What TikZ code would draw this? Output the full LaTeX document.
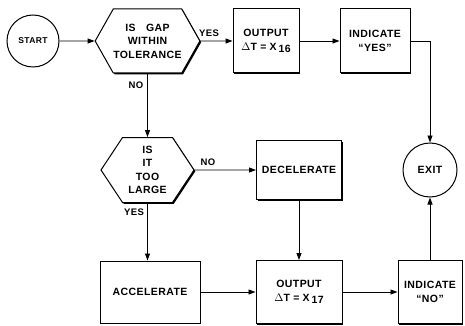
\documentclass[tikz,border=0pt]{standalone}
\usepackage{fontspec}
\setmainfont[LetterSpace=4]{Liberation Sans}
\usetikzlibrary{arrows.meta,shapes.symbols,shadows}
\begin{document}
\begin{tikzpicture}[x=1pt,y=-1pt,
  every node/.style={font=\bfseries\fontsize{10.5}{13.5}\selectfont, align=center, inner sep=0pt},
  shad/.style={drop shadow={shadow xshift=1.3pt,shadow yshift=-1.3pt,fill=black,opacity=1}},
  box/.style={draw, line width=1pt, fill=white, shad},
  hexa/.style={draw, line width=1pt, fill=white, shad, shape=signal, signal to=east and west},
  circ/.style={draw, circle, line width=1pt, fill=white},
  conn/.style={line width=0.9pt},
  arr/.style={conn, -{Triangle[length=7pt,width=5pt]}},
  lbl/.style={font=\bfseries\fontsize{9.5}{11}\selectfont}
]
\useasboundingbox (0,0) rectangle (465,326);
% nodes
\node[circ, minimum size=52pt, font=\bfseries\fontsize{8.5}{10}\selectfont] (start) at (33,41) {START};
\node[hexa, minimum width=94pt, minimum height=64pt, signal pointer angle=121] (hex1) at (147.5,41) {IS\hspace{1em}GAP\\WITHIN\\TOLERANCE};
\node[box, minimum width=66pt, minimum height=64pt] (out1) at (266,41) {OUTPUT\\$\Delta$T = X\,\raisebox{-0.45ex}{16}};
\node[box, minimum width=70pt, minimum height=64pt] (indyes) at (375,41) {INDICATE\\``YES''};
\node[circ, minimum size=54pt] (exit) at (430,170) {EXIT};
\node[hexa, minimum width=93pt, minimum height=65pt, signal pointer angle=113] (hex2) at (147.5,170) {IS\\IT\\TOO\\LARGE};
\node[box, minimum width=85pt, minimum height=59pt] (decel) at (299,170) {DECELERATE};
\node[box, minimum width=100pt, minimum height=62pt] (accel) at (150,292) {ACCELERATE};
\node[box, minimum width=86pt, minimum height=63pt] (out2) at (299,292) {OUTPUT\\$\Delta$T = X\,\raisebox{-0.45ex}{17}};
\node[box, minimum width=64pt, minimum height=63pt] (indno) at (430,292) {INDICATE\\``NO''};
% labels
\node[lbl] (lyes1) at (209,33) {YES};
\node[lbl] (lno1) at (136,85) {NO};
\node[lbl] (lno2) at (208,162) {NO};
\node[lbl] (lyes2) at (134,212) {YES};
% connectors
\draw[arr] (start) -- (hex1);
\draw[arr] (hex1) -- (out1);
\draw[arr] (out1) -- (indyes);
\draw[arr] (indyes.east) -| (exit.north);
\draw[arr] (hex1.south) -- (hex2.north);
\draw[arr] (hex2) -- (decel);
\draw[arr] (hex2.south) -- (hex2.south |- accel.north);
\draw[arr] (decel.south) -- (out2.north);
\draw[arr] (accel) -- (out2);
\draw[arr] (out2) -- (indno);
\draw[arr] (indno.north) -- (exit.south);
\end{tikzpicture}
\end{document}
